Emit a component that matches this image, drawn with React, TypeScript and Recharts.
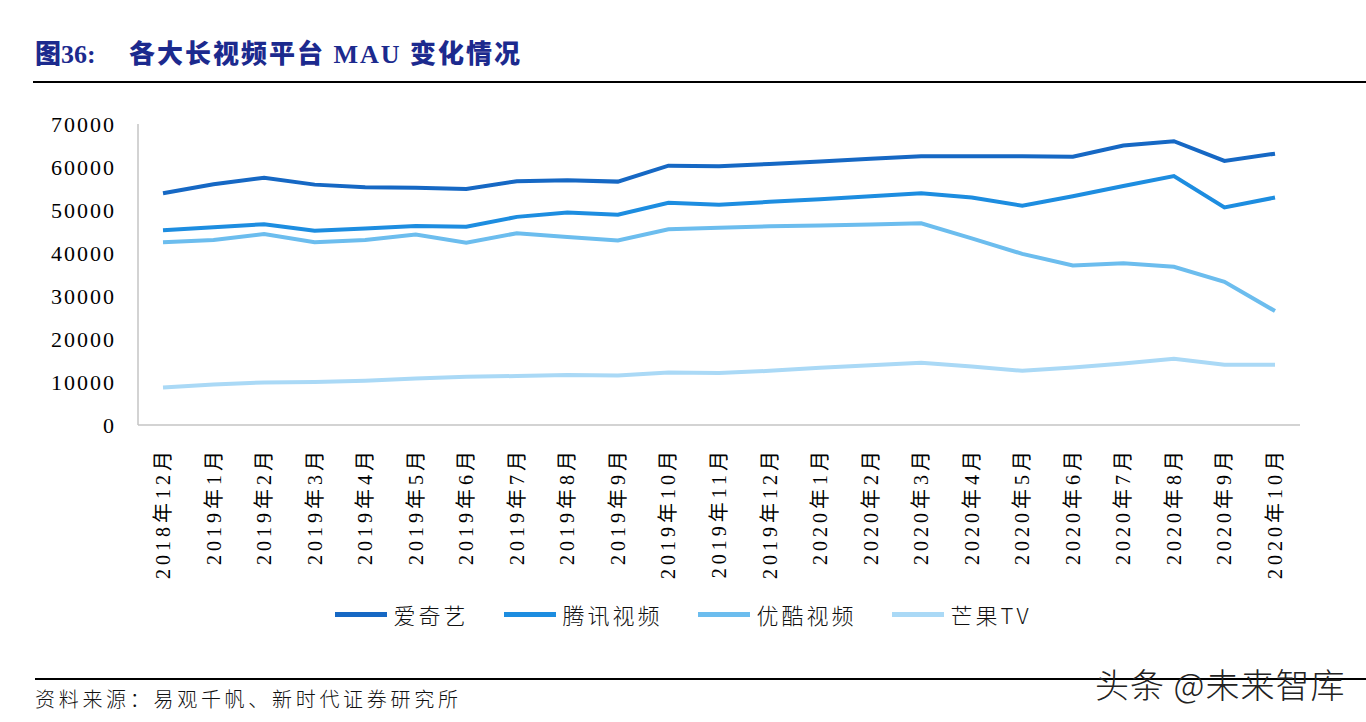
import React from "react";
import { Line, LineChart, XAxis, YAxis } from "recharts";

const months = [
	"2018年12月",
	"2019年1月",
	"2019年2月",
	"2019年3月",
	"2019年4月",
	"2019年5月",
	"2019年6月",
	"2019年7月",
	"2019年8月",
	"2019年9月",
	"2019年10月",
	"2019年11月",
	"2019年12月",
	"2020年1月",
	"2020年2月",
	"2020年3月",
	"2020年4月",
	"2020年5月",
	"2020年6月",
	"2020年7月",
	"2020年8月",
	"2020年9月",
	"2020年10月",
];

// 单位：万人
const iqiyi = [53900, 56000, 57500, 55900, 55300, 55200, 54900, 56700, 56900, 56600, 60300, 60200, 60700, 61300, 61900, 62500, 62500, 62500, 62400, 65000, 66000, 61400, 63100];
const tencent = [45300, 46000, 46700, 45200, 45700, 46300, 46100, 48400, 49400, 48900, 51700, 51200, 51900, 52500, 53200, 53900, 52900, 51000, 53200, 55600, 57900, 50600, 52900];
const youku = [42500, 43000, 44400, 42500, 43000, 44300, 42400, 44600, 43700, 42900, 45500, 45900, 46200, 46400, 46600, 46900, 43400, 39800, 37100, 37600, 36800, 33300, 26500];
const mango = [8700, 9400, 9900, 10000, 10300, 10800, 11200, 11400, 11600, 11500, 12200, 12100, 12600, 13300, 13900, 14500, 13600, 12600, 13400, 14300, 15400, 14000, 14000];

const yTicks = [0, 10000, 20000, 30000, 40000, 50000, 60000, 70000];

const SERIES = [
	{ key: "iqiyi", name: "爱奇艺", color: "#1668c4" },
	{ key: "tencent", name: "腾讯视频", color: "#1d8de0" },
	{ key: "youku", name: "优酷视频", color: "#6cbdee" },
	{ key: "mango", name: "芒果TV", color: "#aad9f6" },
];

const chartData = months.map((m, i) => ({
	month: m,
	iqiyi: iqiyi[i],
	tencent: tencent[i],
	youku: youku[i],
	mango: mango[i],
}));

const SERIF = '"Liberation Serif", "Noto Sans CJK SC", serif';
const CJK = '"Noto Sans CJK SC", sans-serif';
const AXIS_Y = 425;

function MonthTick(props: any) {
	const { x, payload } = props;
	const ty = AXIS_Y + 22;
	return (
		<text
			x={x}
			y={ty}
			dy="0.35em"
			transform={`rotate(-90 ${x} ${ty})`}
			textAnchor="end"
			fontFamily={SERIF}
			fontSize={20}
			letterSpacing={4}
			fill="#000"
		>
			{payload.value}
		</text>
	);
}

export default function App() {
	return (
		<div style={{ position: "absolute", left: 0, top: 0, width: 1366, height: 722, background: "#fff", overflow: "hidden" }}>
			<div style={{ position: "absolute", left: 35, top: 33, color: "#1c2a8e", fontWeight: 900, fontSize: 26, fontFamily: SERIF, whiteSpace: "nowrap" }}>
				图36:
			</div>
			<div style={{ position: "absolute", left: 129, top: 33, color: "#1c2a8e", fontWeight: 900, fontSize: 26, fontFamily: SERIF, letterSpacing: 2, whiteSpace: "nowrap" }}>
				各大长视频平台 MAU 变化情况
			</div>
			<div style={{ position: "absolute", left: 33, top: 81, width: 1333, height: 2, background: "#000" }} />

			<LineChart width={1366} height={722} data={chartData} margin={{ top: 124, right: 66, bottom: 137, left: 0 }} style={{ position: "absolute", left: 0, top: 0 }}>
				<XAxis
					dataKey="month"
					interval={0}
					height={160}
					padding={{ left: 25, right: 25 }}
					tick={<MonthTick />}
					tickLine={false}
					axisLine={{ stroke: "#c4c4c4", strokeWidth: 1.5 }}
				/>
				<YAxis
					domain={[0, 70000]}
					ticks={yTicks}
					width={138}
					tickLine={false}
					tickSize={0}
					tickMargin={22}
					axisLine={{ stroke: "#c4c4c4", strokeWidth: 1.5 }}
					tick={{ fontFamily: SERIF, fontSize: 22, fill: "#000", letterSpacing: 2 }}
				/>
				{SERIES.map((s) => (
					<Line
						key={s.key}
						dataKey={s.key}
						name={s.name}
						stroke={s.color}
						strokeWidth={4}
						dot={false}
						type="linear"
						isAnimationActive={false}
					/>
				))}
			</LineChart>

			<div style={{ position: "absolute", top: 598, left: 0, width: 1366, display: "flex", justifyContent: "center", alignItems: "center", gap: 35 }}>
				{SERIES.map((s) => (
					<div key={s.key} style={{ display: "flex", alignItems: "center" }}>
						<span style={{ display: "inline-block", width: 52, height: 5, background: s.color, marginRight: 7 }} />
						<span style={{ fontFamily: CJK, fontSize: 22, letterSpacing: 3, color: "#111", fontWeight: 300 }}>{s.name}</span>
					</div>
				))}
			</div>

			<div style={{ position: "absolute", left: 35, top: 678, width: 1331, height: 2, background: "#000" }} />
			<div style={{ position: "absolute", left: 35, top: 684, fontFamily: CJK, fontSize: 20, letterSpacing: 3.7, color: "#111", fontWeight: 300, whiteSpace: "nowrap" }}>
				资料来源：易观千帆、新时代证券研究所
			</div>
			<div
				style={{
					position: "absolute",
					left: 1095,
					top: 659,
					fontFamily: CJK,
					fontSize: 34,
					letterSpacing: 1,
					color: "#222",
					fontWeight: 300,
					whiteSpace: "nowrap",
				}}
			>
				头条 @未来智库
			</div>
		</div>
	);
}
